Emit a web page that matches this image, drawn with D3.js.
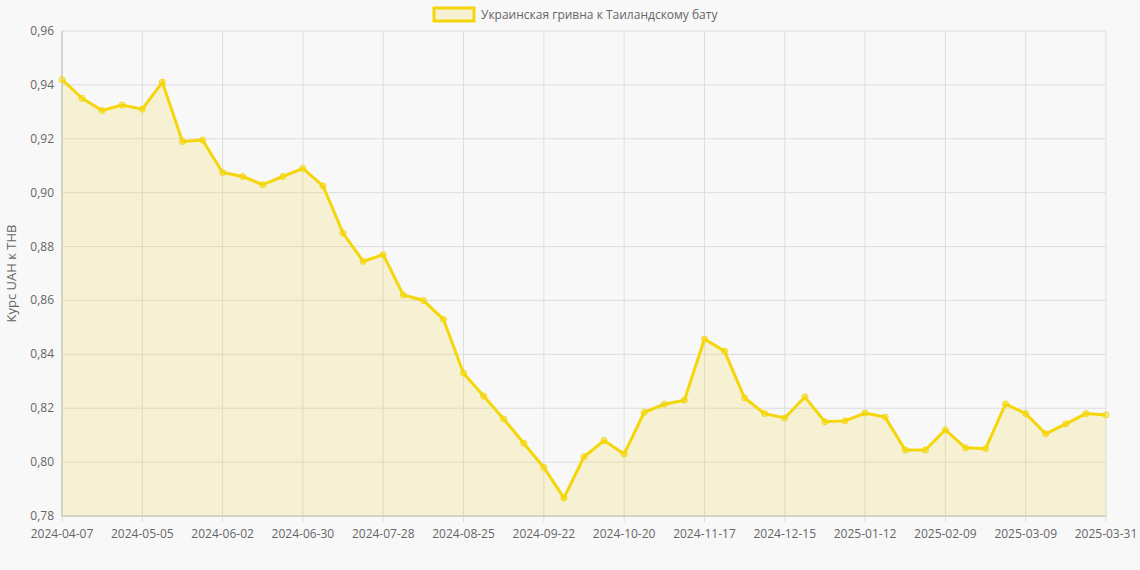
<!DOCTYPE html>
<html><head><meta charset="utf-8">
<script src="https://cdn.jsdelivr.net/npm/d3@7"></script>
<style>body{margin:0;background:#f8f8f8;font-family:"Open Sans",Arial,sans-serif}</style>
</head><body><svg id="c" width="1140" height="570"></svg>
<script>
const values=[0.942,0.935,0.9305,0.9325,0.931,0.941,0.919,0.9195,0.9075,0.906,0.903,0.906,0.909,0.9025,0.885,0.8745,0.877,0.862,0.860,0.853,0.833,0.8245,0.816,0.807,0.798,0.7867,0.802,0.808,0.803,0.8185,0.8215,0.823,0.8457,0.8412,0.8238,0.818,0.8164,0.8242,0.815,0.8153,0.8182,0.8167,0.8045,0.8045,0.812,0.8053,0.805,0.8216,0.818,0.8105,0.8142,0.818,0.8175];
const categories=(()=>{const a=[];const p=d3.timeFormat("%Y-%m-%d");let d=new Date(2024,3,7);for(let i=0;i<52;i++){a.push(p(d));d=d3.timeDay.offset(d,7);}a.push("2025-03-31");return a;})();
const yTicks=[0.78,0.80,0.82,0.84,0.86,0.88,0.90,0.92,0.94,0.96];
const seriesName="Украинская гривна к Таиландскому бату";
const yTitle="Курс UAH к THB";
const svg=d3.select("#c");
const L=62,R=1106,T=31,B=516;
const x=d3.scalePoint().domain(categories).range([L,R]);
const y=d3.scaleLinear().domain([0.78,0.96]).range([B,T]);
const shown=categories.filter((c,i)=>i%4===0||i===categories.length-1);
svg.append("g").selectAll("line").data(yTicks).join("line").attr("x1",L).attr("x2",R).attr("y1",d=>y(d)).attr("y2",d=>y(d)).attr("stroke","#ddd");
svg.append("g").selectAll("line").data(shown).join("line").attr("x1",d=>x(d)).attr("x2",d=>x(d)).attr("y1",T).attr("y2",B+6).attr("stroke","#ddd");
svg.append("line").attr("x1",L).attr("x2",L).attr("y1",T).attr("y2",B).attr("stroke","#bbb");
svg.append("line").attr("x1",L).attr("x2",R).attr("y1",B).attr("y2",B).attr("stroke","#bbb");
svg.append("g").selectAll("text").data(yTicks).join("text").attr("x",L-8).attr("y",d=>y(d)+4).attr("text-anchor","end").attr("font-size",12).attr("fill","#666").text(d=>d.toFixed(2).replace(".",","));
svg.append("g").selectAll("text").data(shown).join("text").attr("x",d=>x(d)).attr("y",B+22).attr("text-anchor","middle").attr("font-size",12).attr("fill","#666").text(d=>d);
svg.append("text").attr("transform",`translate(16,${(T+B)/2}) rotate(-90)`).attr("text-anchor","middle").attr("font-size",13).attr("fill","#666").text(yTitle);
const area=d3.area().x((d,i)=>x(categories[i])).y0(B).y1(d=>y(d));
const line=d3.line().x((d,i)=>x(categories[i])).y(d=>y(d));
svg.append("path").attr("d",area(values)).attr("fill","rgba(240,215,60,0.2)");
svg.append("path").attr("d",line(values)).attr("fill","none").attr("stroke","#f5d60a").attr("stroke-width",3);
svg.append("g").selectAll("circle").data(values).join("circle").attr("cx",(d,i)=>x(categories[i])).attr("cy",d=>y(d)).attr("r",3).attr("fill","rgba(245,214,10,0.3)").attr("stroke","#f5d60a").attr("stroke-width",1);
const lg=svg.append("g");
const lt=lg.append("text").attr("x",481).attr("y",19).attr("font-size",12).attr("fill","#666").text(seriesName);
lg.append("rect").attr("x",434).attr("y",8).attr("width",40).attr("height",13).attr("fill","rgba(240,215,60,0.2)").attr("stroke","#f5d60a").attr("stroke-width",3);
</script></body></html>
